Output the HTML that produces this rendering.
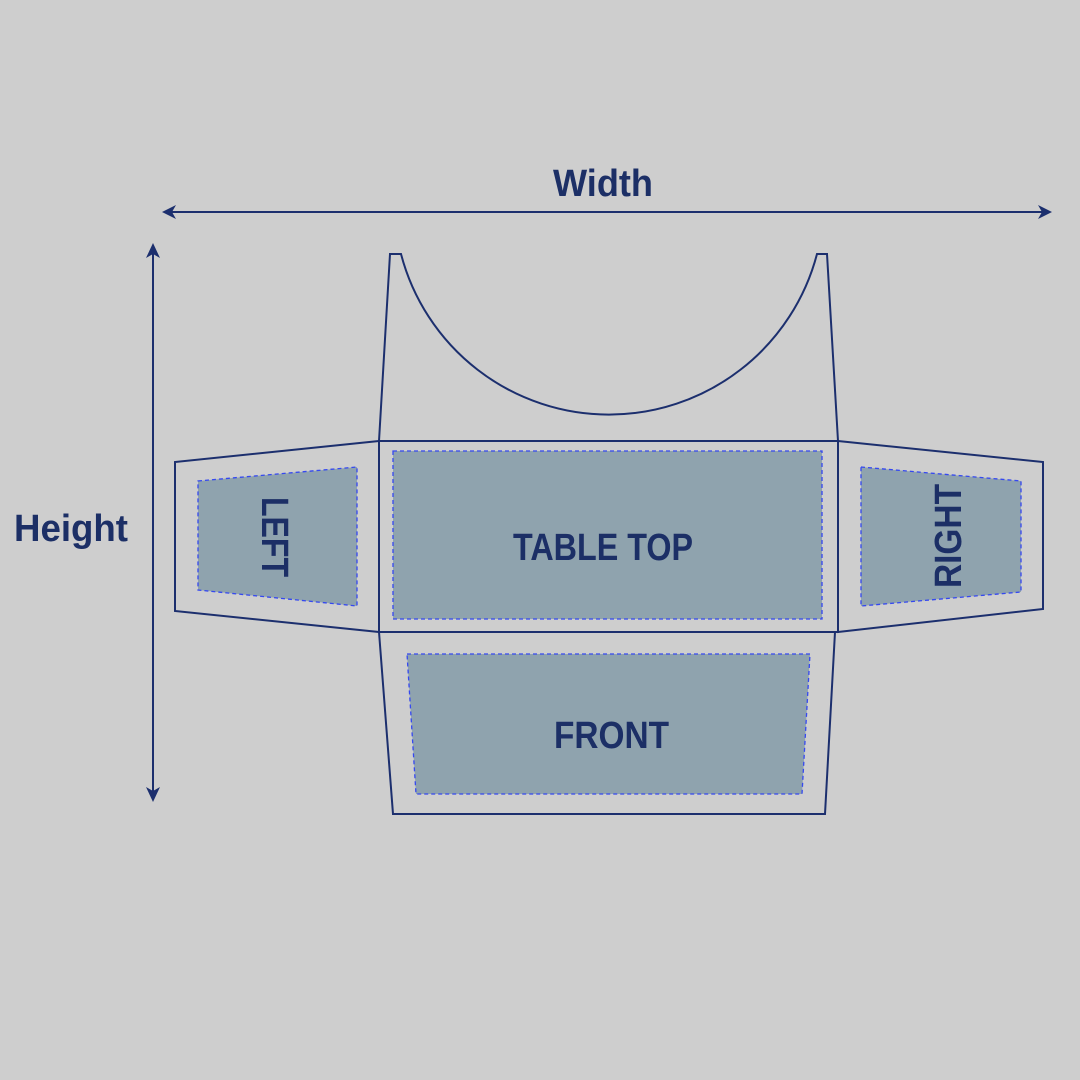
<!DOCTYPE html>
<html><head><meta charset="utf-8"><style>html,body{margin:0;padding:0;background:#cecece}svg{display:block}</style></head>
<body>
<svg width="1080" height="1080" viewBox="0 0 1080 1080" xmlns="http://www.w3.org/2000/svg">
<rect width="1080" height="1080" fill="#cecece"/>
<g stroke="#1c2f6e" stroke-width="2" fill="none">
<line x1="168" y1="212" x2="1046" y2="212"/>
<line x1="153" y1="250" x2="153" y2="795"/>
</g>
<g fill="#1c2f6e">
<path d="M162 212 L176 205 L172 212 L176 219 Z"/>
<path d="M1052 212 L1038 205 L1042 212 L1038 219 Z"/>
<path d="M153 243 L146 258 L153 254 L160 258 Z"/>
<path d="M153 802 L146 787 L153 791 L160 787 Z"/>
</g>
<g fill="#8fa3ae" stroke="#3548f0" stroke-width="1.3" stroke-dasharray="4 3">
<rect x="393" y="451" width="429" height="168"/>
<polygon points="198,481 357,467 357,606 198,590"/>
<polygon points="861,467 1021,481 1021,592 861,606"/>
<polygon points="407,654 810,654 802,794 416,794"/>
</g>
<g stroke="#1c2f6e" stroke-width="2" fill="none" stroke-linejoin="miter">
<path d="M379 441 L390 254 L401 254 A215 215 0 0 0 817 254 L827 254 L838 441"/>
<rect x="379" y="441" width="459" height="191"/>
<polygon points="379,441 175,462 175,611 379,632"/>
<polygon points="838,441 1043,462 1043,609 838,632"/>
<polygon points="379,632 835,632 825,814 393,814"/>
</g>
<g fill="#1c2f66" font-family="Liberation Sans, sans-serif" font-weight="bold">
<text x="553" y="196" font-size="38" textLength="100" lengthAdjust="spacingAndGlyphs">Width</text>
<text x="14" y="541" font-size="38" textLength="114" lengthAdjust="spacingAndGlyphs">Height</text>
<text x="513" y="560" font-size="38" textLength="180" lengthAdjust="spacingAndGlyphs">TABLE TOP</text>
<text x="554" y="748" font-size="38" textLength="115" lengthAdjust="spacingAndGlyphs">FRONT</text>
<text transform="translate(262,497) rotate(90)" font-size="38" textLength="80" lengthAdjust="spacingAndGlyphs">LEFT</text>
<text transform="translate(961,588) rotate(-90)" font-size="38" textLength="104" lengthAdjust="spacingAndGlyphs">RIGHT</text>
</g>
</svg>
</body></html>
